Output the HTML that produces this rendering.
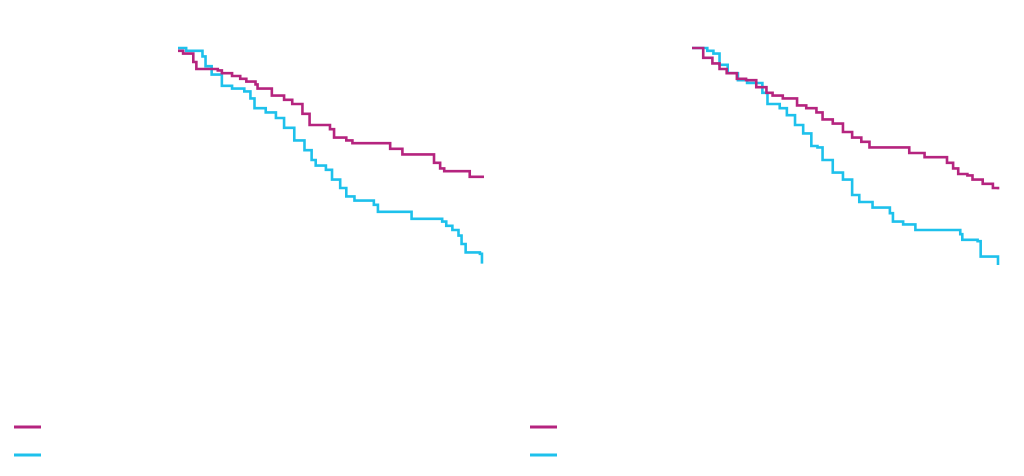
<!DOCTYPE html>
<html><head><meta charset="utf-8"><style>
html,body{margin:0;padding:0;background:#fff;width:1024px;height:476px;overflow:hidden}
svg{display:block;font-family:"Liberation Sans",sans-serif}
</style></head><body>
<svg id="c" width="1024" height="476"></svg>
<script>
const leftMagT=[0,0.5,1.5,1.8,3.9,4.3,5.3,6.1,6.7,7.6,7.8,8.8,9.2,10.4,11.2,12.2,12.9,13.9,14.9,15.3,16.5,17.1,20.2,20.8,22,24.5,25.1,25.7,26.1,28.6,30];
const leftMagS=[0.99,0.98,0.95,0.925,0.92,0.91,0.90,0.89,0.88,0.87,0.855,0.855,0.83,0.815,0.80,0.765,0.725,0.725,0.71,0.68,0.67,0.66,0.66,0.64,0.62,0.62,0.59,0.57,0.56,0.54,0.54];
const leftCyanT=[0,0.8,2.2,2.4,2.7,3.3,4.3,5.3,6.5,7.1,7.5,8.6,9.6,10.4,11.4,12.4,13.1,13.5,14.5,15.1,15.9,16.5,17.3,19.2,19.6,22.9,25.9,26.3,26.9,27.5,27.8,28.2,29.6,29.8];
const leftCyanS=[1,0.99,0.99,0.97,0.935,0.905,0.865,0.855,0.845,0.82,0.785,0.77,0.75,0.715,0.67,0.635,0.60,0.58,0.565,0.53,0.50,0.47,0.455,0.44,0.415,0.39,0.38,0.365,0.35,0.33,0.30,0.27,0.265,0.23];
const rightMagT=[0,1.1,2,2.7,3.4,4.4,5.3,6.3,7.3,7.9,8.9,10.3,11.2,12.2,12.8,13.8,14.8,15.7,16.6,17.4,21.1,21.3,22.6,22.8,24.6,25,25.6,26.1,27,27.5,28.5,29.5,30];
const rightMagS=[1,0.965,0.945,0.925,0.91,0.89,0.885,0.86,0.84,0.83,0.82,0.795,0.785,0.77,0.745,0.73,0.70,0.68,0.665,0.645,0.645,0.625,0.625,0.61,0.61,0.59,0.57,0.55,0.545,0.53,0.515,0.50,0.495];
const rightCyanT=[0,1.5,2.1,2.7,3.5,4.5,5.4,6.5,6.9,7.4,8.6,9.3,10.1,10.9,11.7,12.3,12.8,13.8,14.8,15.7,16.4,17.7,19.4,19.7,20.7,21.9,25,26.3,26.5,28,28.3,30,30];
const rightCyanS=[1,0.99,0.98,0.94,0.91,0.885,0.875,0.875,0.84,0.80,0.785,0.76,0.725,0.695,0.65,0.645,0.60,0.555,0.53,0.475,0.45,0.43,0.41,0.38,0.37,0.35,0.35,0.335,0.315,0.31,0.255,0.25,0.225];

const svg=document.getElementById('c');
const NS='http://www.w3.org/2000/svg';
function mk(tag,attrs){const e=document.createElementNS(NS,tag);for(const k in attrs)e.setAttribute(k,attrs[k]);svg.appendChild(e);return e;}
function xs(x0){return t=>x0+t*10.2;}
function ys(s){return 48+(1-s)*280;}
function step(T,S,x){let d='M'+x(T[0])+','+ys(S[0]);for(let i=1;i<T.length;i++){d+=' H'+x(T[i])+' V'+ys(S[i]);}return d;}
const panels=[{x0:178,m:[leftMagT,leftMagS],c:[leftCyanT,leftCyanS],n:'left'},{x0:692,m:[rightMagT,rightMagS],c:[rightCyanT,rightCyanS],n:'right'}];
panels.forEach(p=>{
  const x=xs(p.x0);
  const a=mk('path',{d:step(p.c[0],p.c[1],x),fill:'none',stroke:'#1ec1ec','stroke-width':2.6});
  
  
  const b=mk('path',{d:step(p.m[0],p.m[1],x),fill:'none',stroke:'#b5247f','stroke-width':2.6});
  
  
});
[[14,427,'#b5247f'],[14,455,'#1ec1ec'],[530,427,'#b5247f'],[530,455,'#1ec1ec']].forEach((l,i)=>{
  const e=mk('line',{x1:l[0],x2:l[0]+27,y1:l[1],y2:l[1],stroke:l[2],'stroke-width':3});
  
  
});
</script>
</body></html>
